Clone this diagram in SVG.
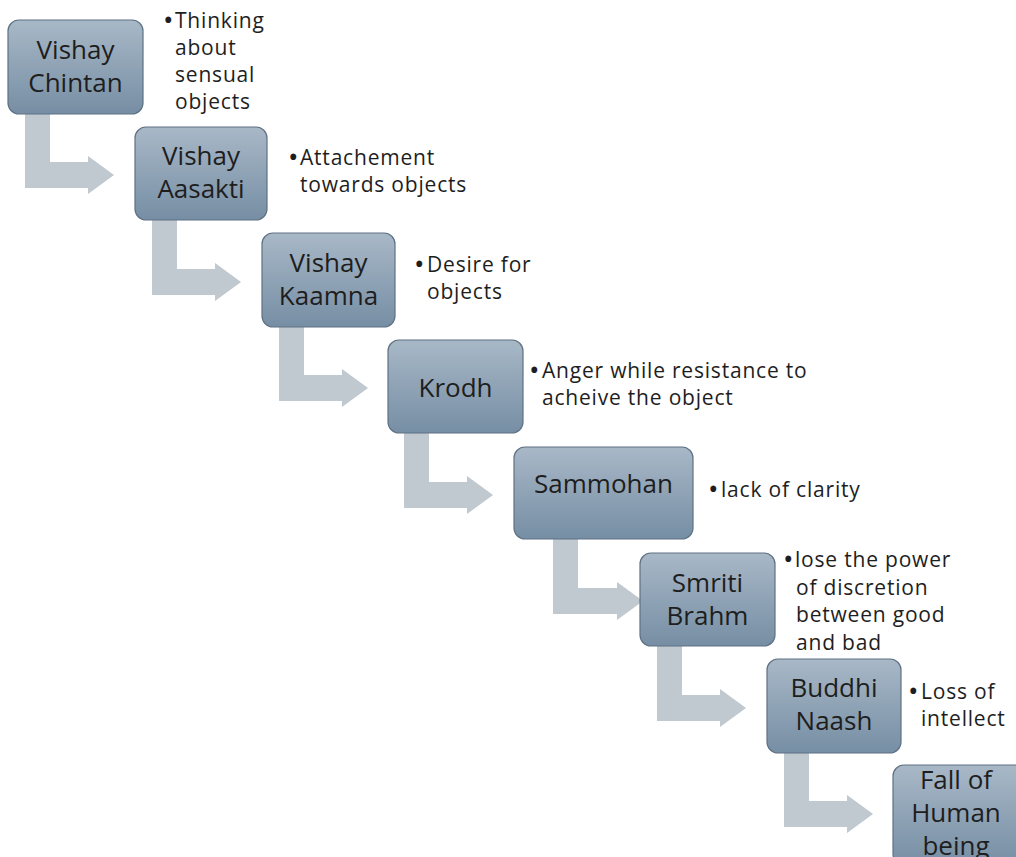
<svg xmlns="http://www.w3.org/2000/svg" width="1016" height="857" viewBox="0 0 1016 857">
<defs>
<linearGradient id="boxg" x1="0" y1="0" x2="0" y2="1">
<stop offset="0" stop-color="#a8b8c7"/>
<stop offset="1" stop-color="#768ea4"/>
</linearGradient>
<style>
.box{fill:url(#boxg);stroke:#5f7184;stroke-width:1.2}
.arr{fill:#c0c8d0}
.bt{font-family:"Open Sans","Liberation Sans",sans-serif;font-size:26px;fill:#1e1e1e;text-anchor:middle}
.st{font-family:"Open Sans","Liberation Sans",sans-serif;font-size:21px;fill:#1e1e1e;letter-spacing:0.8px}
.bl{font-family:"Open Sans","Liberation Sans",sans-serif;font-size:28px;fill:#1e1e1e}
</style>
</defs>
<rect width="1016" height="857" fill="#ffffff"/>
<g id="connectors">
<path class="arr" d="M25,110 H50 V162 H88 V156 L114,175 L88,194 V188 H25 Z"/>
<path class="arr" d="M152,217 H177 V269 H215 V263 L241,282 L215,301 V295 H152 Z"/>
<path class="arr" d="M279,323 H304 V375 H342 V369 L368,388 L342,407 V401 H279 Z"/>
<path class="arr" d="M404,430 H429 V482 H467 V476 L493,495 L467,514 V508 H404 Z"/>
<path class="arr" d="M553,536 H578 V588 H617 V582 L643,601 L617,620 V614 H553 Z"/>
<path class="arr" d="M657,643 H682 V695 H720 V689 L746,708 L720,727 V721 H657 Z"/>
<path class="arr" d="M784,749 H809 V801 H847 V795 L873,814 L847,833 V827 H784 Z"/>
</g>
<g id="n1">
<rect class="box" x="8" y="20" width="135" height="94" rx="11"/>
<text class="bt" x="75.5" y="59">Vishay</text>
<text class="bt" x="75.5" y="92">Chintan</text>
<text class="bl" x="163" y="29.5">•</text>
<text class="st" x="175" y="27.5">Thinking</text>
<text class="st" x="175" y="54.5">about</text>
<text class="st" x="175" y="81.5">sensual</text>
<text class="st" x="175" y="108.5">objects</text>
</g>
<g id="n2">
<rect class="box" x="135" y="127" width="132" height="93" rx="11"/>
<text class="bt" x="201" y="165">Vishay</text>
<text class="bt" x="201" y="198">Aasakti</text>
<text class="bl" x="288" y="167">•</text>
<text class="st" x="300" y="165">Attachement</text>
<text class="st" x="300" y="192">towards objects</text>
</g>
<g id="n3">
<rect class="box" x="262" y="233" width="133" height="94" rx="11"/>
<text class="bt" x="328.5" y="272">Vishay</text>
<text class="bt" x="328.5" y="305">Kaamna</text>
<text class="bl" x="414" y="274">•</text>
<text class="st" x="427" y="272">Desire for</text>
<text class="st" x="427" y="299">objects</text>
</g>
<g id="n4">
<rect class="box" x="388" y="340" width="135" height="93" rx="11"/>
<text class="bt" x="455.5" y="397">Krodh</text>
<text class="bl" x="529" y="380">•</text>
<text class="st" x="542" y="378">Anger while resistance to</text>
<text class="st" x="542" y="405">acheive the object</text>
</g>
<g id="n5">
<rect class="box" x="514" y="447" width="179" height="92" rx="11"/>
<text class="bt" x="603.5" y="493">Sammohan</text>
<text class="bl" x="708" y="499">•</text>
<text class="st" x="721" y="497">lack of clarity</text>
</g>
<g id="n6">
<rect class="box" x="640" y="553" width="135" height="93" rx="11"/>
<text class="bt" x="707.5" y="592">Smriti</text>
<text class="bt" x="707.5" y="625">Brahm</text>
<text class="bl" x="783" y="569">•</text>
<text class="st" x="795" y="567">lose the power</text>
<text class="st" x="796" y="594.5">of discretion</text>
<text class="st" x="796" y="622">between good</text>
<text class="st" x="796" y="649.5">and bad</text>
</g>
<g id="n7">
<rect class="box" x="767" y="659" width="134" height="94" rx="11"/>
<text class="bt" x="834" y="697">Buddhi</text>
<text class="bt" x="834" y="730">Naash</text>
<text class="bl" x="908" y="701">•</text>
<text class="st" x="921" y="699">Loss of</text>
<text class="st" x="921" y="726">intellect</text>
</g>
<g id="n8">
<rect class="box" x="893" y="765" width="134" height="100" rx="11"/>
<text class="bt" x="956" y="789">Fall of</text>
<text class="bt" x="956" y="822">Human</text>
<text class="bt" x="956" y="855">being</text>
</g>
</svg>
